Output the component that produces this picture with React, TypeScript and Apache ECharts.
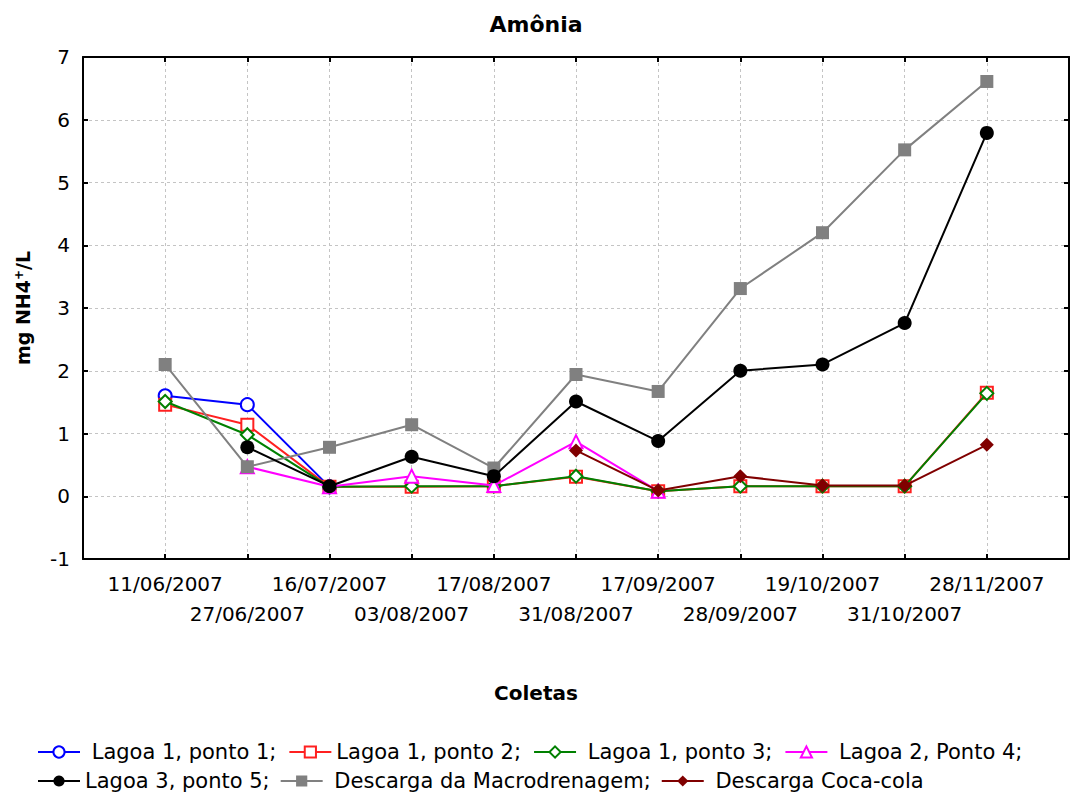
import React, { useEffect, useRef } from "react";
import * as echarts from "echarts";

const dates = [
  "11/06/2007", "27/06/2007", "16/07/2007", "03/08/2007", "17/08/2007", "31/08/2007",
  "17/09/2007", "28/09/2007", "19/10/2007", "31/10/2007", "28/11/2007",
];

const lagoa1p1 = [1.6, 1.46, 0.15, null, null, null, null, null, null, null, null];
const lagoa1p2 = [1.46, 1.14, 0.15, 0.15, 0.16, 0.31, 0.08, 0.16, 0.16, 0.16, 1.65];
const lagoa1p3 = [1.51, 0.98, 0.15, 0.16, 0.16, 0.32, 0.08, 0.16, 0.16, 0.16, 1.64];
const lagoa2p4 = [null, 0.47, 0.15, 0.32, 0.17, 0.87, 0.08, null, null, null, null];
const lagoa3p5 = [null, 0.78, 0.16, 0.63, 0.32, 1.51, 0.88, 2.0, 2.1, 2.76, 5.79];
const macro = [2.1, 0.47, 0.78, 1.14, 0.45, 1.94, 1.67, 3.31, 4.2, 5.52, 6.61];
const coca = [null, null, null, null, null, 0.73, 0.09, 0.32, 0.17, 0.17, 0.82];

const yTicks = [-1, 0, 1, 2, 3, 4, 5, 6, 7];

const FONT = "DejaVu Sans";

function toPoints(vals: (number | null)[]) {
  const out: [number, number][] = [];
  vals.forEach((v, i) => {
    if (v !== null) out.push([i + 1, v]);
  });
  return out;
}

const spaced: Record<string, boolean> = {
  "Lagoa 1, ponto 1": true,
  "Lagoa 1, ponto 2": false,
  "Lagoa 1, ponto 3": true,
  "Lagoa 2, Ponto 4": true,
  "Lagoa 3, ponto 5": false,
  "Descarga da Macrodrenagem": true,
  "Descarga Coca-cola": true,
};

export default function App() {
  const ref = useRef<HTMLDivElement>(null);
  useEffect(() => {
    if (!ref.current) return;
    const chart = echarts.init(ref.current, null, { renderer: "svg" });
    const mk = (
      name: string,
      vals: (number | null)[],
      color: string,
      symbol: string,
      size: number,
      z: number
    ) => ({
      name,
      type: "line",
      data: toPoints(vals),
      symbol,
      symbolSize: size,
      z,
      lineStyle: { color, width: 2 },
      itemStyle: { color, borderWidth: 1.3 },
      emphasis: { disabled: true },
    });
    const legendText = {
      fontFamily: FONT,
      fontSize: 21,
      color: "#000",
      lineHeight: 24,
    };
    const fmt = (n: string) => (spaced[n] ? " " + n : n) + (n === "Descarga Coca-cola" ? "" : ";");
    chart.setOption({
      animation: false,
      backgroundColor: "#ffffff",
      textStyle: { fontFamily: FONT },
      title: [
        {
          text: "Amônia",
          left: "center",
          top: 8,
          textStyle: { fontFamily: FONT, fontSize: 22, fontWeight: "bold", color: "#000" },
        },
        {
          text: "Coletas",
          left: "center",
          top: 678,
          textStyle: { fontFamily: FONT, fontSize: 20, fontWeight: "bold", color: "#000" },
        },
      ],
      legend: [
        {
          data: ["Lagoa 1, ponto 1", "Lagoa 1, ponto 2", "Lagoa 1, ponto 3", "Lagoa 2, Ponto 4"],
          left: 37,
          top: 740,
          padding: 0,
          itemWidth: 42,
          itemHeight: 14,
          itemGap: 12,
          formatter: fmt,
          textStyle: legendText,
          selectedMode: false,
        },
        {
          data: ["Lagoa 3, ponto 5", "Descarga da Macrodrenagem", "Descarga Coca-cola"],
          left: 37,
          top: 769,
          padding: 0,
          itemWidth: 42,
          itemHeight: 14,
          itemGap: 10,
          formatter: fmt,
          textStyle: legendText,
          selectedMode: false,
        },
      ],
      grid: { left: 83, right: 2, top: 57, bottom: 241, containLabel: false },
      xAxis: [
        {
          type: "value",
          min: 0,
          max: 12,
          interval: 1,
          position: "bottom",
          axisLine: { show: true, onZero: false, lineStyle: { color: "#000", width: 2 } },
          axisTick: { show: true, inside: true, length: 5, lineStyle: { color: "#000", width: 2 } },
          splitLine: { show: true, lineStyle: { color: "#c4c4c4", type: [3, 3], width: 1 } },
          axisLabel: {
            fontFamily: FONT,
            fontSize: 20,
            color: "#000",
            lineHeight: 30,
            margin: 10,
            showMinLabel: true,
            showMaxLabel: true,
            formatter: (v: number) => {
              if (v < 1 || v > 11) return "";
              const d = dates[v - 1];
              return v % 2 === 0 ? "\n" + d : d;
            },
          },
        },
        {
          type: "value",
          min: 0,
          max: 12,
          interval: 1,
          position: "top",
          axisLine: { show: true, onZero: false, lineStyle: { color: "#000", width: 2 } },
          axisTick: { show: true, inside: true, length: 5, lineStyle: { color: "#000", width: 2 } },
          splitLine: { show: false },
          axisLabel: { show: false },
        },
      ],
      yAxis: [
        {
          type: "value",
          min: yTicks[0],
          max: yTicks[yTicks.length - 1],
          interval: 1,
          position: "left",
          name: "mg NH4{sup|+}/L",
          nameLocation: "middle",
          nameGap: 50,
          nameTextStyle: {
            fontFamily: FONT,
            fontSize: 19,
            fontWeight: "bold",
            color: "#000",
            rich: {
              sup: { fontFamily: FONT, fontSize: 12, fontWeight: "bold", color: "#000", verticalAlign: "top", padding: [0, 0, 8, 0] },
            },
          },
          axisLine: { show: true, onZero: false, lineStyle: { color: "#000", width: 2 } },
          axisTick: { show: true, inside: true, length: 5, lineStyle: { color: "#000", width: 2 } },
          splitLine: { show: true, lineStyle: { color: "#c4c4c4", type: [3, 3], width: 1 } },
          axisLabel: { fontFamily: FONT, fontSize: 20, color: "#000", margin: 13 },
        },
        {
          type: "value",
          min: yTicks[0],
          max: yTicks[yTicks.length - 1],
          interval: 1,
          position: "right",
          axisLine: { show: true, onZero: false, lineStyle: { color: "#000", width: 2 } },
          axisTick: { show: true, inside: true, length: 5, lineStyle: { color: "#000", width: 2 } },
          splitLine: { show: false },
          axisLabel: { show: false },
        },
      ],
      series: [
        mk("Lagoa 1, ponto 1", lagoa1p1, "#0000ff", "emptyCircle", 13, 2),
        mk("Lagoa 1, ponto 2", lagoa1p2, "#ff2020", "emptyRect", 12, 3),
        mk("Lagoa 1, ponto 3", lagoa1p3, "#008000", "emptyDiamond", 13, 4),
        mk("Lagoa 2, Ponto 4", lagoa2p4, "#ff00ff", "emptyTriangle", 13, 5),
        mk("Lagoa 3, ponto 5", lagoa3p5, "#000000", "circle", 14, 7),
        mk("Descarga da Macrodrenagem", macro, "#808080", "rect", 13, 6),
        mk("Descarga Coca-cola", coca, "#800000", "diamond", 14, 8),
      ],
    });
    return () => chart.dispose();
  }, []);
  return (
    <div
      ref={ref}
      style={{ position: "fixed", left: 0, top: 0, width: 1072, height: 800, background: "#fff" }}
    />
  );
}
